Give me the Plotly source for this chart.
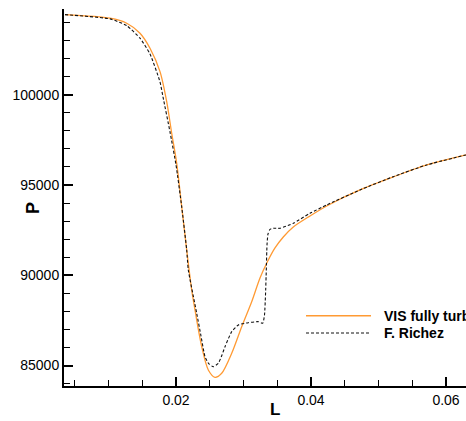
import plotly.graph_objects as go

# VIS fully turbulent (orange, solid)
vis_L = [0.003556, 0.010222, 0.012696, 0.014667, 0.016148, 0.017630, 0.018622, 0.019363,
         0.020104, 0.020844, 0.021585, 0.022326, 0.022815, 0.023807, 0.024785, 0.025778,
         0.026770, 0.028252, 0.029733, 0.031215, 0.032444, 0.033526, 0.034667, 0.035896,
         0.037378, 0.039852, 0.042326, 0.047259, 0.052193, 0.057141, 0.062963]
vis_P = [104440, 104240, 103963, 103409, 102578, 101281, 99619, 97868,
         96206, 93801, 91402, 89185, 88077, 86044, 84753, 84348,
         84570, 85678, 87152, 88537, 89850, 90737, 91513, 92122,
         92676, 93286, 93840, 94726, 95447, 96112, 96666]

# F. Richez (black, dashed)
ric_L = [0.003556, 0.010222, 0.012696, 0.014667, 0.016148, 0.017630, 0.018074, 0.019111,
         0.020000, 0.020844, 0.021585, 0.021822, 0.023067, 0.023704, 0.024296, 0.024889,
         0.025526, 0.026267, 0.026815, 0.027259, 0.028252, 0.029230, 0.030711, 0.032193,
         0.032844, 0.033111, 0.033259, 0.033378, 0.033481, 0.033630, 0.033926, 0.034415,
         0.035407, 0.037378, 0.039852, 0.042326, 0.047259, 0.052193, 0.057141, 0.062963]
ric_P = [104440, 104202, 103830, 103132, 102260, 100710, 99880, 97940,
         96120, 93801, 91402, 90294, 87894, 86637, 85490, 85085,
         84935, 85124, 85584, 86044, 86875, 87246, 87374, 87429,
         87340, 87800, 88908, 90294, 91679, 92288, 92538, 92604,
         92604, 92881, 93435, 93895, 94726, 95463, 96112, 96666]

series_names = ["VIS fully turbulent", "F. Richez"]
x_ticks = [0.02, 0.04, 0.06]
x_tick_labels = ["0.02", "0.04", "0.06"]
y_ticks = [85000, 90000, 95000, 100000]
y_tick_labels = ["85000", "90000", "95000", "100000"]

FONT = "Liberation Sans, Arial, Helvetica, sans-serif"
ORANGE = "#ff9a33"

fig = go.Figure()
fig.add_trace(go.Scatter(x=vis_L, y=vis_P, mode="lines", name=series_names[0],
                         line=dict(color=ORANGE, width=1.3, shape="spline", smoothing=0.8)))
fig.add_trace(go.Scatter(x=ric_L, y=ric_P, mode="lines", name=series_names[1],
                         line=dict(color="#111111", width=1.1, dash="3px,2px",
                                   shape="spline", smoothing=0.5)))

axis_common = dict(showline=True, linecolor="black", linewidth=2, showgrid=False,
                   zeroline=False, ticks="inside", ticklen=9, tickwidth=2,
                   tickcolor="black", tickfont=dict(family=FONT, size=14, color="black"))

fig.update_xaxes(range=[0.003407, 0.062963], tickvals=x_ticks, ticktext=x_tick_labels,
                 minor=dict(dtick=0.005, tick0=0, ticks="inside", ticklen=6,
                            tickwidth=1, tickcolor="black"),
                 **axis_common)
fig.update_yaxes(range=[83866, 104750], tickvals=y_ticks, ticktext=y_tick_labels,
                 minor=dict(dtick=1000, tick0=0, ticks="inside", ticklen=6,
                            tickwidth=1, tickcolor="black"),
                 **axis_common)

# legend drawn as shapes + text (matches original long sample lines)
leg_x0, leg_x1, leg_tx = 0.602, 0.7637, 0.7903
leg_y = [0.1865, 0.1406]
shapes = [
    dict(type="line", xref="paper", yref="paper", x0=leg_x0, x1=leg_x1,
         y0=leg_y[0], y1=leg_y[0], line=dict(color=ORANGE, width=1.5)),
    dict(type="line", xref="paper", yref="paper", x0=leg_x0, x1=leg_x1,
         y0=leg_y[1], y1=leg_y[1], line=dict(color="#111111", width=1.1, dash="3px,2px")),
]
annotations = [
    dict(text=series_names[0], xref="paper", yref="paper", x=leg_tx, y=leg_y[0],
         xanchor="left", yanchor="middle", showarrow=False,
         font=dict(family=FONT, size=14, color="black", weight="bold")),
    dict(text=series_names[1], xref="paper", yref="paper", x=leg_tx, y=leg_y[1],
         xanchor="left", yanchor="middle", showarrow=False,
         font=dict(family=FONT, size=14, color="black", weight="bold")),
    dict(text="L", xref="paper", yref="paper", x=0.525, y=-0.0928,
         xanchor="center", yanchor="bottom", showarrow=False,
         font=dict(family=FONT, size=17, color="black", weight="bold")),
    dict(text="P", xref="paper", yref="paper", x=-0.0771, y=0.472, textangle=-90,
         xanchor="center", yanchor="middle", showarrow=False,
         font=dict(family=FONT, size=18, color="black", weight="bold")),
]

fig.update_layout(width=466, height=421, showlegend=False,
                  margin=dict(l=64, r=0, t=9, b=35, autoexpand=False),
                  paper_bgcolor="white", plot_bgcolor="white",
                  shapes=shapes, annotations=annotations,
                  font=dict(family=FONT, color="black"))

fig.write_html("out.html")
